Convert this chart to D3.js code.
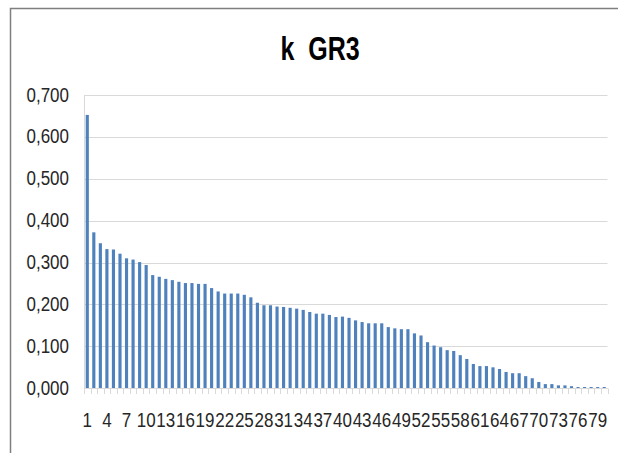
<!DOCTYPE html>
<html>
<head>
<meta charset="utf-8">
<script src="https://cdn.jsdelivr.net/npm/d3@7"></script>
<style>
  html, body { margin: 0; padding: 0; background: #fff; }
  svg { display: block; }
  text { font-family: "Liberation Sans", Arial, sans-serif; }
</style>
</head>
<body>
<svg id="chart" width="618" height="453"></svg>
<script>
// k coefficient per element, sorted in decreasing order
const categories = d3.range(1, 81);
const values = [
  0.652, 0.372, 0.346, 0.332, 0.331, 0.321, 0.310, 0.307, 0.301, 0.294,
  0.270, 0.266, 0.261, 0.258, 0.254, 0.251, 0.251, 0.249, 0.249, 0.239,
  0.231, 0.226, 0.226, 0.226, 0.223, 0.217, 0.204, 0.198, 0.198, 0.195,
  0.194, 0.192, 0.190, 0.187, 0.182, 0.178, 0.178, 0.175, 0.170, 0.171,
  0.168, 0.162, 0.158, 0.155, 0.155, 0.155, 0.146, 0.143, 0.141, 0.141,
  0.131, 0.126, 0.110, 0.102, 0.098, 0.091, 0.089, 0.079, 0.070, 0.058,
  0.053, 0.053, 0.050, 0.046, 0.039, 0.036, 0.036, 0.029, 0.024, 0.015,
  0.010, 0.010, 0.007, 0.007, 0.005, 0.003, 0.003, 0.003, 0.003, 0.003
];
const yTicks = [0, 0.1, 0.2, 0.3, 0.4, 0.5, 0.6, 0.7];
const xLabels = categories.filter((d, i) => i % 3 === 0);
const title = "k  GR3";

const svg = d3.select("#chart");
const W = 618, H = 453;
const plot = { left: 84, right: 607.5, top: 94.8, bottom: 388.3 };

// chart frame (left and top edges)
svg.append("path")
  .attr("d", `M10.5,${H} L10.5,8.5 L${W},8.5`)
  .attr("fill", "none")
  .attr("stroke", "#7f7f7f")
  .attr("stroke-width", 1.5);

const x = d3.scaleBand()
  .domain(categories)
  .range([plot.left, plot.right])
  .paddingInner(0.52)
  .paddingOuter(0.26);

const y = d3.scaleLinear()
  .domain([0, 0.7])
  .range([plot.bottom, plot.top]);

// horizontal gridlines
svg.append("g")
  .selectAll("line")
  .data(yTicks)
  .join("line")
  .attr("x1", plot.left)
  .attr("x2", plot.right)
  .attr("y1", d => Math.round(y(d)) + 0.5)
  .attr("y2", d => Math.round(y(d)) + 0.5)
  .attr("stroke", "#d9d9d9")
  .attr("stroke-width", 1);

// y axis labels (tall, condensed look)
const yAxis = d3.axisLeft(y)
  .tickValues(yTicks)
  .tickSize(0)
  .tickPadding(15)
  .tickFormat(d => d3.format(".3f")(d).replace(".", ","));

svg.append("g")
  .attr("transform", `translate(${plot.left},0)`)
  .call(yAxis)
  .call(g => g.select(".domain").attr("stroke", "#d9d9d9"))
  .call(g => g.selectAll("text")
    .attr("font-size", 17)
    .attr("transform", "scale(1,1.15)")
    .attr("fill", "#262626"));

// bars
svg.append("g")
  .selectAll("rect")
  .data(values)
  .join("rect")
  .attr("x", (d, i) => x(categories[i]))
  .attr("width", x.bandwidth())
  .attr("y", d => y(d))
  .attr("height", d => y(0) - y(d))
  .attr("fill", "#4f81bd");

// x axis line with category boundary ticks
const boundaries = d3.range(categories.length + 1).map(i => plot.left + i * (plot.right - plot.left) / categories.length);
const xg = svg.append("g");
xg.append("line")
  .attr("x1", plot.left).attr("x2", plot.right)
  .attr("y1", Math.round(y(0)) + 0.5).attr("y2", Math.round(y(0)) + 0.5)
  .attr("stroke", "#d9d9d9");
xg.selectAll("line.tick")
  .data(boundaries)
  .join("line")
  .attr("class", "tick")
  .attr("x1", d => Math.round(d) + 0.5)
  .attr("x2", d => Math.round(d) + 0.5)
  .attr("y1", Math.round(y(0)) + 0.5)
  .attr("y2", Math.round(y(0)) + 6)
  .attr("stroke", "#d9d9d9");

// x axis labels
const xAxis = d3.axisBottom(x)
  .tickValues(xLabels)
  .tickSize(0)
  .tickPadding(22);

svg.append("g")
  .attr("transform", `translate(0,${plot.bottom})`)
  .call(xAxis)
  .call(g => g.select(".domain").remove())
  .call(g => g.selectAll("text")
    .attr("font-size", 17)
    .attr("transform", "scale(1,1.15)")
    .attr("fill", "#262626"));

// title
svg.append("g")
  .attr("transform", "translate(320,60) scale(1,1.35)")
  .append("text")
  .attr("text-anchor", "middle")
  .attr("font-size", 25)
  .attr("font-weight", "bold")
  .attr("fill", "#000")
  .style("white-space", "pre")
  .text(title);
</script>
</body>
</html>
